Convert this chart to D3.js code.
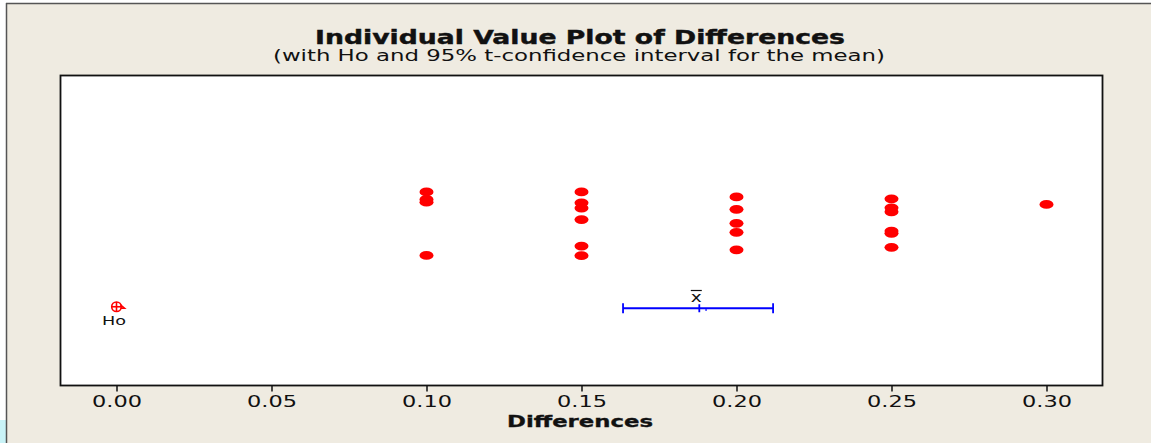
<!DOCTYPE html>
<html><head><meta charset="utf-8">
<script src="https://cdn.jsdelivr.net/npm/d3@7"></script>
<style>html,body{margin:0;padding:0;background:#fff;}svg{display:block;}</style>
</head><body>
<script>
// Data
const xTicks = [0.00, 0.05, 0.10, 0.15, 0.20, 0.25, 0.30];
const diffValues = [0.10,0.10,0.10,0.10, 0.15,0.15,0.15,0.15,0.15,0.15, 0.20,0.20,0.20,0.20,0.20, 0.25,0.25,0.25,0.25,0.25,0.25, 0.30];
// vertical jitter (arbitrary units 0-100) as displayed by the individual value plot
const jitter = [62.4,60.0,59.1,42.0, 62.4,58.9,57.2,53.5,45.0,41.9, 60.8,56.8,52.3,49.4,43.8, 60.2,57.3,56.0,49.8,49.1,44.6, 58.4];
const h0 = 0.0;
const meanValue = 0.188;
const ciLower = 0.1634;
const ciUpper = 0.2118;
const intervalLevel = 25;
const titleText = "Individual Value Plot of Differences";
const subtitleText = "(with Ho and 95% t-confidence interval for the mean)";
const xLabel = "Differences";

const W = 1151, H = 443;
const svg = d3.select("body").append("svg").attr("width", W).attr("height", H);
svg.append("rect").attr("width", W).attr("height", H).attr("fill", "#ffffff");
svg.append("rect").attr("x", 6).attr("y", 3).attr("width", W - 6).attr("height", H - 3).attr("fill", "#EFEBE1");
svg.append("rect").attr("x", 0).attr("y", 420).attr("width", 6).attr("height", 23).attr("fill", "#C9F3F7");
svg.append("line").attr("x1", 6).attr("x2", W).attr("y1", 3.5).attr("y2", 3.5).attr("stroke", "#555").attr("stroke-width", 1.5);
svg.append("line").attr("x1", 6.5).attr("x2", 6.5).attr("y1", 3).attr("y2", H).attr("stroke", "#555").attr("stroke-width", 1.5);

const plot = {left: 60.5, top: 75.5, right: 1102.5, bottom: 385.5};
const x = d3.scaleLinear().domain([0, 0.30]).range([116.5, 1046.5]);
const y = d3.scaleLinear().domain([0, 100]).range([386, 75]);

svg.append("rect").attr("x", plot.left).attr("y", plot.top)
  .attr("width", plot.right - plot.left).attr("height", plot.bottom - plot.top)
  .attr("fill", "#fff").attr("stroke", "#111").attr("stroke-width", 1.8);

// Axis
const axis = d3.axisBottom(x).tickValues(xTicks).tickFormat(d3.format(".2f")).tickSize(6).tickPadding(5);
const gx = svg.append("g").attr("transform", `translate(0,${plot.bottom})`).call(axis);
gx.select(".domain").remove();
gx.selectAll(".tick line").attr("stroke", "#111").attr("stroke-width", 1.5);
gx.selectAll(".tick text").attr("font-family", "DejaVu Sans").attr("font-size", 15).attr("fill", "#111")
  .attr("dy", null).attr("y", 21).attr("textLength", 50).attr("lengthAdjust", "spacingAndGlyphs");

// Titles
svg.append("text").attr("x", 580).attr("y", 44).attr("text-anchor", "middle")
  .attr("font-family", "DejaVu Sans").attr("font-weight", "bold").attr("font-size", 19).attr("fill", "#111")
  .attr("stroke", "#111").attr("stroke-width", 0.4)
  .attr("textLength", 530).attr("lengthAdjust", "spacingAndGlyphs").text(titleText);
svg.append("text").attr("x", 579).attr("y", 61).attr("text-anchor", "middle")
  .attr("font-family", "DejaVu Sans").attr("font-size", 16).attr("fill", "#111")
  .attr("textLength", 612).attr("lengthAdjust", "spacingAndGlyphs").text(subtitleText);
svg.append("text").attr("x", 580).attr("y", 427).attr("text-anchor", "middle")
  .attr("font-family", "DejaVu Sans").attr("font-weight", "bold").attr("font-size", 15).attr("fill", "#111")
  .attr("stroke", "#111").attr("stroke-width", 0.3)
  .attr("textLength", 146).attr("lengthAdjust", "spacingAndGlyphs").text(xLabel);

// Points
svg.append("g").selectAll("ellipse").data(diffValues).join("ellipse")
  .attr("cx", d => x(d)).attr("cy", (d, i) => y(jitter[i]))
  .attr("rx", 7).attr("ry", 4.4).attr("fill", "#FF0000");

// Ho symbol
const hy = y(intervalLevel) - 1.5;
const hg = svg.append("g").attr("stroke", "#FF0000").attr("fill", "none").attr("stroke-width", 1.6);
hg.append("circle").attr("cx", x(h0)).attr("cy", hy).attr("r", 4.8);
hg.append("line").attr("x1", x(h0) - 4.8).attr("x2", x(h0) + 4.8).attr("y1", hy).attr("y2", hy);
hg.append("line").attr("x1", x(h0)).attr("x2", x(h0)).attr("y1", hy - 4.8).attr("y2", hy + 4.8);
hg.append("path").attr("d", `M${x(h0)+4},${hy-2} L${x(h0)+8},${hy+1.5} L${x(h0)+4},${hy+1.5}`);
svg.append("text").attr("x", x(h0) - 2.5).attr("y", 325).attr("text-anchor", "middle")
  .attr("font-family", "DejaVu Sans").attr("font-size", 13).attr("fill", "#111")
  .attr("textLength", 24).attr("lengthAdjust", "spacingAndGlyphs").text("Ho");

// Confidence interval
const cy = y(intervalLevel);
const cg = svg.append("g").attr("stroke", "#0000FF").attr("stroke-width", 1.8);
cg.append("line").attr("x1", x(ciLower)).attr("x2", x(ciUpper)).attr("y1", cy).attr("y2", cy);
cg.append("line").attr("x1", x(ciLower)).attr("x2", x(ciLower)).attr("y1", cy - 5).attr("y2", cy + 5);
cg.append("line").attr("x1", x(ciUpper)).attr("x2", x(ciUpper)).attr("y1", cy - 5).attr("y2", cy + 5);
cg.append("line").attr("x1", x(meanValue)).attr("x2", x(meanValue)).attr("y1", cy - 4).attr("y2", cy + 4);
svg.append("rect").attr("x", x(meanValue) + 6).attr("y", cy + 1).attr("width", 1.5).attr("height", 1.5).attr("fill", "#0000FF");
// x-bar label
const xbx = x(meanValue) - 3;
svg.append("text").attr("x", xbx).attr("y", 302).attr("text-anchor", "middle")
  .attr("font-family", "DejaVu Sans").attr("font-size", 14).attr("fill", "#111")
  .attr("textLength", 11).attr("lengthAdjust", "spacingAndGlyphs").text("x");
svg.append("line").attr("x1", xbx - 5.5).attr("x2", xbx + 5.5).attr("y1", 290.5).attr("y2", 290.5)
  .attr("stroke", "#111").attr("stroke-width", 1.2);
</script>
</body></html>
